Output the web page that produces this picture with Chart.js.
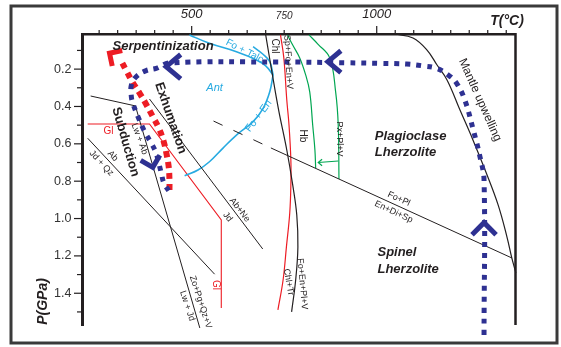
<!DOCTYPE html>
<html>
<head>
<meta charset="utf-8">
<script src="https://cdn.jsdelivr.net/npm/chart.js@4.4.1/dist/chart.umd.min.js"></script>
<style>
html, body { margin:0; padding:0; background:#fff; }
#wrap { width:561px; height:347px; }
</style>
</head>
<body>
<div id="wrap"><canvas id="c" width="561" height="347"></canvas></div>
<script>
// axis ticks
const tempTicks = [250,300,350,400,450,500,550,600,650,700,750,800,850,900,950,1000,1050,1100,1150,1200,1250,1300,1350];
const tempLabels = [500, 750, 1000];
const presTicks = [0.1,0.2,0.3,0.4,0.5,0.6,0.7,0.8,0.9,1.0,1.1,1.2,1.3,1.4,1.5];
const presLabels = [0.2, 0.4, 0.6, 0.8, 1.0, 1.2, 1.4];

// reaction curves, T in °C and P in GPa
const solidusT = [1049, 1098, 1136, 1163, 1190, 1225, 1260, 1295, 1328, 1352, 1365, 1376];
const solidusP = [0.012, 0.033, 0.098, 0.178, 0.258, 0.419, 0.579, 0.751, 0.927, 1.099, 1.211, 1.291];
const abQzT = [219, 562];
const abQzP = [0.570, 1.298];
const lwT = [227, 348, 522];
const lwP = [0.344, 0.397, 1.586];
const abNeT = [386, 692];
const abNeP = [0.360, 1.163];
const plDashT = [559, 714];
const plDashP = [0.478, 0.622];
const plT = [714, 1365];
const plP = [0.622, 1.211];
const chlT = [700, 716, 735, 757, 773, 784, 787, 781, 770];
const chlP = [0.017, 0.205, 0.419, 0.633, 0.820, 0.981, 1.152, 1.329, 1.500];
const spT = [740, 749, 757, 763, 768, 768, 765, 756, 747, 733];
const spP = [0.017, 0.140, 0.365, 0.499, 0.686, 0.820, 0.970, 1.152, 1.329, 1.489];
const hbT = [759, 773, 792, 808, 819, 827, 833, 835];
const hbP = [0.017, 0.071, 0.140, 0.231, 0.322, 0.499, 0.633, 0.729];
const pxT = [817, 841, 873, 889, 896, 898];
const pxP = [0.017, 0.066, 0.140, 0.322, 0.499, 0.788];
const hbArrowT = [896, 842];
const hbArrowP = [0.692, 0.700];
const talcT = [494, 548, 621, 675, 700, 720];
const talcP = [0.017, 0.062, 0.107, 0.151, 0.183, 0.231];
const talc2T = [666, 692, 711, 720];
const talc2P = [0.080, 0.119, 0.160, 0.231];
const antT = [720, 711, 693, 666, 621, 584, 548, 517, 481];
const antP = [0.231, 0.321, 0.410, 0.481, 0.553, 0.624, 0.696, 0.740, 0.771];
const glT = [219, 386, 580, 580];
const glP = [0.494, 0.494, 1.008, 1.479];

// P-T paths
const upwellT = [1290, 1290, 1279, 1261, 1238, 1216, 1193, 1162, 1126, 1081, 1008, 918, 738, 440, 404, 377, 350, 337, 337, 341, 355, 373, 391, 404, 418, 425, 438];
const upwellP = [1.623, 0.794, 0.669, 0.526, 0.365, 0.276, 0.231, 0.196, 0.183, 0.173, 0.169, 0.166, 0.162, 0.167, 0.196, 0.208, 0.241, 0.285, 0.348, 0.383, 0.455, 0.535, 0.597, 0.651, 0.758, 0.811, 0.851];
const exhumT = [440, 440, 438, 432, 424, 411, 394, 378, 359, 340, 324, 308];
const exhumP = [0.847, 0.794, 0.724, 0.654, 0.585, 0.515, 0.451, 0.392, 0.328, 0.269, 0.210, 0.151];

const ink = '#231f20';
const navy = '#2e3192';
const red = '#ed1c24';
const cyan = '#27aae1';
const green = '#00a651';
const FONT = '"Liberation Sans", Arial, sans-serif';

// arrow heads on the paths (tip position, pointing angle in degrees)
const chevrons = [
    {T:868, P:0.160, ang:180, len:17, half:40, color:navy, w:5},
    {T:431, P:0.187, ang:180, len:19, half:40, color:navy, w:5},
    {T:1290, P:1.022, ang:-90, len:17, half:45, color:navy, w:5},
    {T:395, P:0.726, ang:75, len:14, half:45, color:navy, w:5},
    {T:278, P:0.115, ang:-147, len:13, half:45, color:red, w:5},
    {T:842, P:0.700, ang:180, len:5, half:40, color:green, w:1.2}
];

const notes = [
    {text:'Serpentinization', T:286, P:0.076, rot:0, font:'italic bold 13px', color:ink, align:'left'},
    {text:'Plagioclase', T:995, P:0.562, rot:0, font:'italic bold 13px', color:ink, align:'left'},
    {text:'Lherzolite', T:995, P:0.647, rot:0, font:'italic bold 13px', color:ink, align:'left'},
    {text:'Spinel', T:1002, P:1.183, rot:0, font:'italic bold 13px', color:ink, align:'left'},
    {text:'Lherzolite', T:1002, P:1.270, rot:0, font:'italic bold 13px', color:ink, align:'left'},
    {text:'Exhumation', T:443, P:0.462, rot:71, font:'bold 13px', color:ink},
    {text:'Subduction', T:321, P:0.590, rot:74, font:'bold 13px', color:ink},
    {text:'Mantle upwelling', T:1279, P:0.365, rot:66, font:'12px', color:ink},
    {text:'Ant', T:562, P:0.301, rot:0, font:'italic 11px', color:cyan},
    {text:'Fo + Talc', T:643, P:0.103, rot:27, font:'10px', color:cyan},
    {text:'Fo + En', T:681, P:0.451, rot:-53, font:'10.5px', color:cyan},
    {text:'Chl', T:724, P:0.076, rot:90, font:'10px', color:ink},
    {text:'Sp+Fo+En+V', T:761, P:0.162, rot:87, font:'9px', color:ink},
    {text:'Hb', T:800, P:0.558, rot:90, font:'10px', color:ink},
    {text:'Px+Pl+V', T:900, P:0.574, rot:90, font:'9px', color:ink},
    {text:'Fo+Pl', T:1060, P:0.895, rot:25, font:'9px', color:ink},
    {text:'En+Di+Sp', T:1046, P:0.965, rot:25, font:'9px', color:ink},
    {text:'Gl', T:275, P:0.531, rot:0, font:'10px', color:red},
    {text:'Gl', T:565, P:1.356, rot:90, font:'10px', color:red},
    {text:'Lw + Ab', T:359, P:0.574, rot:70, font:'9px', color:ink},
    {text:'Ab', T:287, P:0.665, rot:47, font:'9px', color:ink},
    {text:'Jd + Qz', T:256, P:0.704, rot:47, font:'9px', color:ink},
    {text:'Ab+Ne', T:630, P:0.954, rot:52, font:'9px', color:ink},
    {text:'Jd', T:597, P:0.992, rot:52, font:'9px', color:ink},
    {text:'Zo+Pg+Qz+V', T:524, P:1.447, rot:72, font:'9px', color:ink},
    {text:'Lw + Jd', T:488, P:1.468, rot:72, font:'9px', color:ink},
    {text:'Fo+En+Pl+V', T:799, P:1.350, rot:85, font:'9px', color:ink},
    {text:'Chl+Tr', T:762, P:1.340, rot:80, font:'9px', color:ink}
];

function line(T, P, color, width, extra) {
    return Object.assign({
        data: T.map((t, i) => ({x: t, y: P[i]})),
        showLine: true, borderColor: color, borderWidth: width,
        pointRadius: 0, tension: 0, fill: false
    }, extra || {});
}

const datasets = [
    line(upwellT, upwellP, navy, 5, {tension: 0.4, borderDash: [5, 6], clip: false, order: -1}),
    line(exhumT, exhumP, red, 6, {tension: 0.4, borderDash: [6, 5], order: -1}),
    line(solidusT, solidusP, ink, 1.2, {tension: 0.4, clip: false}),
    line(abQzT, abQzP, ink, 1),
    line(lwT, lwP, ink, 1, {clip: false}),
    line(abNeT, abNeP, ink, 1),
    line(plDashT, plDashP, ink, 1, {borderDash: [10, 12]}),
    line(plT, plP, ink, 1),
    line(chlT, chlP, ink, 1.2, {tension: 0.4}),
    line(spT, spP, red, 1.2, {tension: 0.4}),
    line(hbT, hbP, green, 1.2, {tension: 0.4}),
    line(pxT, pxP, green, 1.2, {tension: 0.4}),
    line(hbArrowT, hbArrowP, green, 1.2),
    line(talcT, talcP, cyan, 1.6, {tension: 0.4}),
    line(talc2T, talc2P, cyan, 1.6, {tension: 0.4}),
    line(antT, antP, cyan, 1.6, {tension: 0.4}),
    line(glT, glP, red, 1.1)
];

const decor = {
    id: 'decor',
    afterDatasetsDraw(chart) {
        const ctx = chart.ctx, xs = chart.scales.x, ys = chart.scales.y, a = chart.chartArea;
        ctx.save();
        // right edge of the plot
        ctx.strokeStyle = ink;
        ctx.lineWidth = 2.5;
        ctx.beginPath();
        ctx.moveTo(a.right, a.top - 1);
        ctx.lineTo(a.right, a.bottom);
        ctx.stroke();

        // tick marks
        ctx.lineWidth = 1.2;
        tempTicks.forEach(v => {
            let px = xs.getPixelForValue(v);
            let len = (v == 500 || v == 1000) ? 8 : 4;
            ctx.beginPath();
            ctx.moveTo(px, a.top);
            ctx.lineTo(px, a.top - len);
            ctx.stroke();
        });
        presTicks.forEach(v => {
            let py = ys.getPixelForValue(v);
            let len = presLabels.some(l => Math.abs(l - v) < 1e-6) ? 8.5 : 5.5;
            ctx.beginPath();
            ctx.moveTo(a.left, py);
            ctx.lineTo(a.left - len, py);
            ctx.stroke();
        });

        // arrow heads
        chevrons.forEach(c => {
            let x = xs.getPixelForValue(c.T), y = ys.getPixelForValue(c.P);
            let back = (c.ang + 180) * Math.PI / 180, h = c.half * Math.PI / 180;
            ctx.strokeStyle = c.color;
            ctx.lineWidth = c.w;
            ctx.lineJoin = 'miter';
            ctx.beginPath();
            ctx.moveTo(x + c.len * Math.cos(back - h), y + c.len * Math.sin(back - h));
            ctx.lineTo(x, y);
            ctx.lineTo(x + c.len * Math.cos(back + h), y + c.len * Math.sin(back + h));
            ctx.stroke();
        });

        // labels
        notes.forEach(n => {
            ctx.save();
            ctx.translate(xs.getPixelForValue(n.T), ys.getPixelForValue(n.P));
            ctx.rotate(n.rot * Math.PI / 180);
            ctx.font = n.font + ' ' + FONT;
            ctx.fillStyle = n.color;
            ctx.textAlign = n.align || 'center';
            ctx.textBaseline = 'middle';
            ctx.fillText(n.text, 0, 0);
            ctx.restore();
        });

        // axis titles
        ctx.fillStyle = ink;
        ctx.font = 'italic bold 14px ' + FONT;
        ctx.textAlign = 'center';
        ctx.textBaseline = 'middle';
        ctx.fillText('T(°C)', 507, 21);
        ctx.save();
        ctx.translate(43.5, 301.5);
        ctx.rotate(-Math.PI / 2);
        ctx.fillText('P(GPa)', 0, 0);
        ctx.restore();

        // outer frame
        ctx.strokeStyle = '#3a3a3a';
        ctx.lineWidth = 3;
        ctx.strokeRect(11, 6, 546, 337);
        ctx.restore();
    }
};

new Chart(document.getElementById('c'), {
    type: 'scatter',
    data: { datasets: datasets },
    options: {
        responsive: false,
        animation: false,
        events: [],
        layout: { padding: { left: 0, top: 0, right: 45.5, bottom: 22 } },
        plugins: { legend: { display: false }, tooltip: { enabled: false } },
        scales: {
            x: {
                type: 'linear', position: 'top', min: 205, max: 1375,
                afterFit: s => { s.height = 34; },
                afterBuildTicks: s => { s.ticks = tempTicks.map(v => ({value: v})); },
                grid: { display: false, drawTicks: false, tickLength: 0 },
                border: { display: true, width: 2.5, color: ink },
                ticks: {
                    autoSkip: false, maxRotation: 0, padding: 12, color: ink,
                    callback: v => tempLabels.includes(v) ? String(v) : '',
                    font: c => ({family: FONT, style: 'italic', size: (c.tick && c.tick.value == 750) ? 10 : 13})
                }
            },
            y: {
                type: 'linear', position: 'left', reverse: true, min: 0.012, max: 1.57,
                afterFit: s => { s.width = 82.5; },
                afterBuildTicks: s => { s.ticks = presTicks.map(v => ({value: v})); },
                grid: { display: false, drawTicks: false, tickLength: 0 },
                border: { display: true, width: 3, color: ink },
                ticks: {
                    autoSkip: false, padding: 11, color: '#333',
                    callback: v => presLabels.some(l => Math.abs(l - v) < 1e-6) ? v.toFixed(1) : '',
                    font: { family: FONT, size: 12.5 }
                }
            }
        }
    },
    plugins: [decor]
});
</script>
</body>
</html>
